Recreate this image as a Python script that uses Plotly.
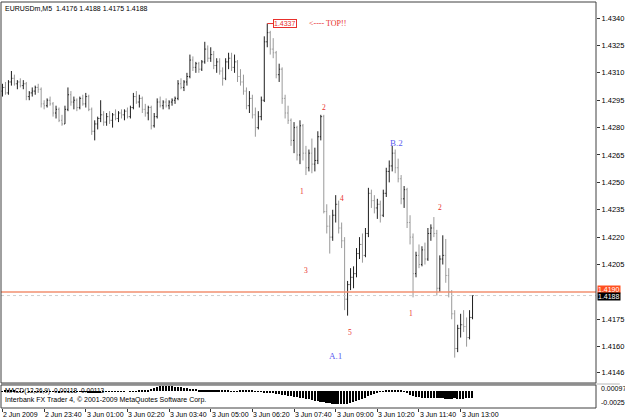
import plotly.graph_objects as go

# ---------------- data (prices in pips above 1.4000) ----------------
opens = [300,302,299,305,307,304,305,303,304,297,299,300,302,301,293,292,295,293,288,290,
         284,282,290,298,294,295,291,296,293,297,290,278,282,285,287,283,286,284,287,285,
         288,287,289,286,291,297,294,296,290,288,291,281,286,294,292,294,292,294,295,296,
         304,302,305,308,317,313,315,312,316,323,318,320,314,316,311,307,316,318,313,316,
         308,305,300,292,296,287,280,286,295,327,332,323,321,309,312,296,288,284,273,280,
         265,281,266,258,266,260,262,275,286,234,226,220,232,238,225,218,186,194,198,200,
         211,216,210,222,244,240,236,238,232,244,256,259,266,258,252,241,246,228,220,200,
         210,205,213,208,222,225,222,192,208,210,199,190,178,159,170,172,171,165,176]
highs = [304,305,306,311,309,306,307,306,305,300,302,303,304,302,295,296,297,294,292,291,
         287,292,302,300,297,296,297,298,299,298,291,284,286,295,289,288,289,288,290,289,
         290,290,291,292,299,300,298,297,293,292,292,288,296,297,295,296,295,296,297,306,
         307,306,310,320,319,316,316,317,327,325,324,322,318,318,313,318,321,321,320,317,
         312,309,302,300,298,291,289,297,330,337,333,329,322,315,313,298,292,285,283,281,
         284,282,270,268,274,269,278,287,287,238,232,235,243,240,228,220,196,203,204,214,
         220,222,225,247,246,243,241,240,246,258,262,270,268,263,254,248,247,232,222,212,
         216,215,217,225,227,231,224,210,221,219,203,191,180,172,178,180,176,180,188]
lows = [297,298,298,303,303,301,302,301,295,295,297,298,299,291,290,291,292,286,285,283,
        281,282,289,292,290,289,290,292,291,289,276,273,279,283,281,281,282,280,284,283,
        285,284,285,285,290,293,291,288,286,284,279,280,285,291,290,291,290,292,293,295,
        301,300,303,307,311,310,310,311,315,316,316,312,310,309,303,306,312,311,310,305,
        303,298,290,288,285,275,279,284,294,324,320,318,307,305,293,285,282,270,266,262,
        260,262,254,256,255,256,260,273,233,222,211,218,228,222,214,180,177,191,192,198,
        208,206,209,220,236,233,230,228,231,242,250,256,255,250,238,236,225,216,187,198,
        203,204,205,207,218,220,188,190,205,195,187,175,154,157,165,168,160,164,175]
closes = [302,299,305,307,304,305,303,304,297,299,300,302,301,293,292,295,293,288,290,284,
          282,290,298,294,295,291,296,293,297,290,278,282,285,287,283,286,284,287,285,288,
          287,289,286,291,297,294,296,290,288,291,281,286,294,292,294,292,294,295,296,304,
          302,305,308,317,313,315,312,316,323,318,320,314,316,311,307,316,318,313,316,308,
          305,300,292,296,287,280,286,295,327,332,323,321,309,312,296,288,284,273,280,265,
          281,266,258,266,260,262,275,286,234,226,220,232,238,225,218,186,194,198,200,211,
          216,210,222,244,240,236,238,232,244,256,259,266,258,252,241,246,228,220,200,210,
          205,213,208,222,225,222,192,208,210,199,190,178,159,170,172,171,165,176,188]

# MACD main values (units of 1e-5)
macd = [5,8,10,8,6,5,3,2,0,-1,-2,-2,-1,-2,-4,-5,-6,-8,-10,-12,
        -11,-8,-5,-4,-3,-4,-5,-6,-10,-14,-16,-15,-14,-12,-11,-10,-9,-8,-6,-5,
        -4,-2,0,2,3,4,10,15,20,28,35,50,70,85,92,95,92,88,80,75,
        68,60,52,45,40,35,30,25,20,18,16,15,14,12,10,8,6,4,3,5,
        8,10,12,10,6,2,-5,-10,-15,-20,-28,-36,-45,-55,-62,-70,-80,-88,-95,-100,
        -108,-118,-130,-142,-152,-162,-172,-182,-192,-200,-208,-214,-218,-220,-221,-220,-212,-200,-185,-168,
        -150,-130,-110,-88,-65,-45,-25,-8,5,15,22,26,24,18,10,2,-30,-60,-80,-95,
        -105,-110,-112,-114,-118,-122,-120,-118,-124,-130,-128,-126,-124,-128,-132,-126,-122,-120,-118]

time_labels = ["2 Jun 2009", "2 Jun 23:40", "3 Jun 01:00", "3 Jun 02:20", "3 Jun 03:40",
               "3 Jun 05:00", "3 Jun 06:20", "3 Jun 07:40", "3 Jun 09:00", "3 Jun 10:20",
               "3 Jun 11:40", "3 Jun 13:00"]
time_label_bars = [0, 14, 28, 42, 56, 70, 84, 98, 112, 126, 140, 154]

price_ticks = [1.4340, 1.4325, 1.4310, 1.4295, 1.4280, 1.4265, 1.4250, 1.4235,
               1.4220, 1.4205, 1.4175, 1.4160, 1.4146]

# wave labels: (bar index, price, text)
wave_bars = [108, 100.7, 114, 102, 116.7, 112, 132.3, 137.3, 147]
wave_prices = [1.4291, 1.4245, 1.4241, 1.4202, 1.41675, 1.4155, 1.42715, 1.4178, 1.4236]
wave_texts = ["2", "1", "4", "3", "5", "A.1", "B.2", "1", "2"]

top_bar = 89
top_price = 1.4337
ask_price = 1.4190
bid_price = 1.4188

# ---------------- figure ----------------
n = len(closes)
xs = list(range(n))
base = 1.4
O = [base + v / 10000 for v in opens]
H = [base + v / 10000 for v in highs]
L = [base + v / 10000 for v in lows]
C = [base + v / 10000 for v in closes]
M = [v / 100000 for v in macd]

RED = "#e8302c"
BLUE = "#5c5cf0"
FONT = "Liberation Sans"

fig = go.Figure()
fig.add_trace(go.Ohlc(
    x=xs, open=O, high=H, low=L, close=C,
    increasing=dict(line=dict(color="#1e1e1e", width=1)),
    decreasing=dict(line=dict(color="#9a9a9a", width=1)),
    tickwidth=0.34, hoverinfo="skip", xaxis="x", yaxis="y", showlegend=False))

fig.add_trace(go.Bar(
    x=xs, y=M, marker=dict(color="#000000", line=dict(width=0)), width=0.55,
    xaxis="x", yaxis="y2", showlegend=False, hoverinfo="skip"))

# price lines
fig.add_hline(y=ask_price, line=dict(color="#f29070", width=1.5), yref="y")
fig.add_hline(y=bid_price, line=dict(color="#cfcfcf", width=1, dash="dot"), yref="y")

main_bottom = 25 / 406
macd_top = 23 / 406

fig.update_layout(
    width=625, height=418,
    margin=dict(l=1, r=24, t=2, b=10),
    paper_bgcolor="white", plot_bgcolor="white",
    bargap=0,
    font=dict(family=FONT, size=7, color="black"),
    xaxis=dict(range=[-0.5, 199.5], anchor="y2", showgrid=False, zeroline=False,
               rangeslider=dict(visible=False),
               tickvals=time_label_bars, ticktext=[""] * len(time_label_bars),
               ticks="outside", ticklen=3, tickcolor="#333", showline=False),
    yaxis=dict(domain=[main_bottom, 1], range=[1.41401, 1.43488], side="right",
               showgrid=False, zeroline=False, tickvals=price_ticks,
               ticktext=[f"{v:.4f}" for v in price_ticks],
               ticks="outside", ticklen=3, tickcolor="#333",
               tickfont=dict(size=7.5, family=FONT), showline=False),
    yaxis2=dict(domain=[0, macd_top], range=[-0.0029, 0.0011], side="right",
                showgrid=False, zeroline=False, showticklabels=False,
                ticks="", showline=False),
)

# panel frames
fig.add_shape(type="rect", xref="paper", yref="paper", x0=0, x1=1, y0=main_bottom, y1=1,
              line=dict(color="#404040", width=1))
fig.add_shape(type="rect", xref="paper", yref="paper", x0=0, x1=1, y0=0, y1=macd_top,
              line=dict(color="#404040", width=1))
fig.add_shape(type="rect", xref="paper", yref="paper", x0=0, x1=1.04, y0=macd_top + 0.001,
              y1=main_bottom - 0.001, line=dict(width=0), fillcolor="#b8b8b8", layer="below")

ann = []
# time labels (left-aligned at tick like MT4)
for b, t in zip(time_label_bars, time_labels):
    ann.append(dict(x=b, y=0, xref="x", yref="paper", text=t, showarrow=False,
                    xanchor="left", yanchor="top", xshift=-1, yshift=-1,
                    font=dict(size=7, family=FONT, color="black")))
# header
ann.append(dict(x=0, y=1, xref="paper", yref="paper", xanchor="left", yanchor="top",
                xshift=2, yshift=-1, showarrow=False,
                text="EURUSDm,M5  1.4176 1.4188 1.4175 1.4188",
                font=dict(size=7, family=FONT, color="black")))
# MACD texts
ann.append(dict(x=0, y=macd_top, xref="paper", yref="paper", xanchor="left", yanchor="top",
                xshift=2, yshift=0, showarrow=False,
                text="MACD(12,26,9) -0.00118 -0.00113",
                font=dict(size=6.5, family=FONT, color="black")))
ann.append(dict(x=0, y=macd_top, xref="paper", yref="paper", xanchor="left", yanchor="top",
                xshift=2, yshift=-9, showarrow=False,
                text="Interbank FX Trader 4, © 2001-2009 MetaQuotes Software Corp.",
                font=dict(size=7, family=FONT, color="black")))
ann.append(dict(x=1, y=macd_top, xref="paper", yref="paper", xanchor="left", yanchor="middle",
                xshift=3, yshift=-3, showarrow=False, text="0.00097",
                font=dict(size=7, family=FONT, color="black")))
ann.append(dict(x=1, y=0, xref="paper", yref="paper", xanchor="left", yanchor="middle",
                xshift=3, yshift=6, showarrow=False, text="-0.0025",
                font=dict(size=7, family=FONT, color="black")))
# price boxes
ann.append(dict(x=1, y=ask_price, xref="paper", yref="y", xanchor="left", yanchor="middle",
                xshift=1, yshift=2, showarrow=False, text="1.4190", bgcolor="#ff5020",
                borderpad=0, font=dict(size=7, family=FONT, color="white")))
ann.append(dict(x=1, y=bid_price, xref="paper", yref="y", xanchor="left", yanchor="middle",
                xshift=1, yshift=-1, showarrow=False, text="1.4188", bgcolor="#000000",
                borderpad=0, font=dict(size=7, family=FONT, color="white")))
# top marker
ann.append(dict(x=top_bar, y=top_price, xref="x", yref="y", text=f"{top_price:.4f}",
                showarrow=True, arrowhead=0, arrowcolor=RED, arrowwidth=1, ax=18, ay=0,
                bordercolor=RED, borderwidth=1, borderpad=0, bgcolor="white",
                font=dict(size=7, family=FONT, color=RED)))
ann.append(dict(x=top_bar, y=top_price, xref="x", yref="y", text="&lt;---- TOP!!",
                showarrow=False, xanchor="left", xshift=40,
                font=dict(size=8, family="Liberation Serif", color=RED)))
# wave labels
for b, p, t in zip(wave_bars, wave_prices, wave_texts):
    col = BLUE if "." in t else RED
    size = 9 if "." in t else 7.5
    ann.append(dict(x=b, y=p, xref="x", yref="y", text=t, showarrow=False,
                    font=dict(size=size, family="Liberation Serif", color=col)))

fig.update_layout(annotations=ann)
fig.write_html("out.html")
